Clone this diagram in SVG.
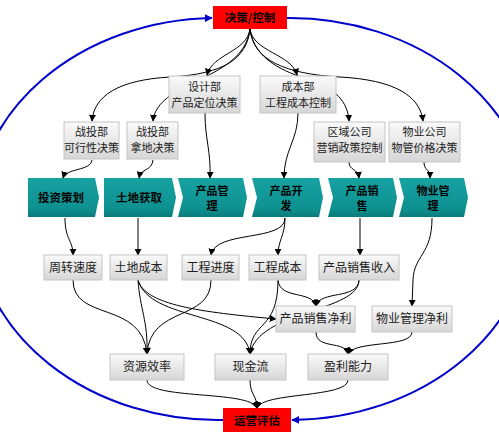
<svg xmlns="http://www.w3.org/2000/svg" width="499" height="440" viewBox="0 0 499 440">
<defs>
<linearGradient id="gbox" x1="0" y1="0" x2="0" y2="1">
<stop offset="0" stop-color="#fafafa"/>
<stop offset="1" stop-color="#d6d6d6"/>
</linearGradient>
<linearGradient id="gteal" x1="0" y1="0" x2="0" y2="1">
<stop offset="0" stop-color="#17a2a2"/>
<stop offset="0.8" stop-color="#0e9090"/>
<stop offset="1" stop-color="#0a7a7a"/>
</linearGradient>
<marker id="ah" viewBox="0 0 10 10" refX="9" refY="5" markerWidth="7" markerHeight="7" markerUnits="userSpaceOnUse" orient="auto">
<path d="M0,0 L10,5 L0,10 z" fill="#000"/>
</marker>
<marker id="ahb" viewBox="0 0 10 10" refX="9" refY="5" markerWidth="8" markerHeight="8" markerUnits="userSpaceOnUse" orient="auto">
<path d="M0,0 L10,5 L0,10 z" fill="#0000cc"/>
</marker>
<style>
.box{fill:url(#gbox);stroke:#c4c4c4;stroke-width:1}
.red{fill:#ff0000;stroke:none}
.chev{fill:url(#gteal);stroke:none}
.t{font-family:"Noto Sans CJK SC","Liberation Sans",sans-serif;font-size:12px;fill:#222;text-anchor:middle}
.t2{font-family:"Noto Sans CJK SC","Liberation Sans",sans-serif;font-size:11px;fill:#222;text-anchor:middle}
.tb{font-family:"Noto Sans CJK SC","Liberation Sans",sans-serif;font-size:11.5px;font-weight:bold;fill:#000;text-anchor:middle}
.tb2{font-family:"Noto Sans CJK SC","Liberation Sans",sans-serif;font-size:11px;font-weight:bold;fill:#000;text-anchor:middle}
.c{fill:none;stroke:#000;stroke-width:1;marker-end:url(#ah)}
.blue{fill:none;stroke:#0000cc;stroke-width:2;marker-end:url(#ahb)}
</style>
</defs>

<g id="cycle">
<path class="blue" d="M223,420 A243,201 0 0 1 212,18"/>
<path class="blue" d="M287,18 A243,201 0 0 1 292,420"/>
</g>

<g id="connectors">
<path class="c" d="M250,29 C247,58 225,74 170,77 C118,80 94,96 92,121"/>
<path class="c" d="M250,29 C246,60 215,72 190,84 C165,96 154,108 153,121"/>
<path class="c" d="M250,29 C247,52 212,54 207,75"/>
<path class="c" d="M250,29 C253,52 292,54 297,75"/>
<path class="c" d="M250,29 C254,60 285,72 310,80 C335,88 348,102 349,121"/>
<path class="c" d="M250,29 C253,60 285,74 340,77 C395,80 420,96 423,121"/>
<path class="c" d="M92,160 C91,171 66,168 63,178"/>
<path class="c" d="M153,160 C152,171 141,168 139,178"/>
<path class="c" d="M205,113 C205,140 211,150 210,178"/>
<path class="c" d="M298,113 C298,140 284,150 284,178"/>
<path class="c" d="M349,162 C349,171 358,168 359,178"/>
<path class="c" d="M424,162 C424,171 430,168 430,178"/>
<path class="c" d="M65,218 C65,240 73,240 73,255"/>
<path class="c" d="M138,218 L138,255"/>
<path class="c" d="M285,218 C285,242 215,230 211,255"/>
<path class="c" d="M285,218 C285,236 278,240 278,255"/>
<path class="c" d="M360,218 L360,255"/>
<path class="c" d="M432,218 C432,255 414,255 413,280 L412,306"/>
<path class="c" d="M278,280 C280,300 312,290 316,306"/>
<path class="c" d="M359,280 C358,300 320,290 316,306"/>
<path class="c" d="M138,280 C145,305 200,312 276,319"/>
<path class="c" d="M138,280 C140,310 148,320 147,354"/>
<path class="c" d="M138,280 C150,322 245,310 250,354"/>
<path class="c" d="M73,280 C73,322 142,300 147,354"/>
<path class="c" d="M211,280 C211,322 150,305 147,354"/>
<path class="c" d="M278,280 C278,332 250,320 250,354"/>
<path class="c" d="M359,280 C359,312 258,310 250,354"/>
<path class="c" d="M316,332 C316,350 345,340 348,354"/>
<path class="c" d="M412,332 C412,348 355,340 348,354"/>
<path class="c" d="M147,380 C147,400 250,390 257,408"/>
<path class="c" d="M250,380 C250,395 257,395 257,408"/>
<path class="c" d="M348,380 C348,398 262,392 257,408"/>
</g>

<g id="n-top"><rect class="red" x="213" y="6" width="74" height="23"/><text class="tb" x="250" y="22">决策/控制</text></g>
<g id="n-bottom"><rect class="red" x="223" y="408" width="68" height="24"/><text class="tb" x="257" y="424.5">运营评估</text></g>

<g id="n-design"><rect class="box" x="169" y="76" width="71" height="37"/><text class="t2" x="204.5" y="90.5">设计部</text><text class="t2" x="204.5" y="106.5">产品定位决策</text></g>
<g id="n-cost"><rect class="box" x="260" y="76" width="76" height="37"/><text class="t2" x="298" y="90.5">成本部</text><text class="t2" x="298" y="106.5">工程成本控制</text></g>
<g id="n-feas"><rect class="box" x="64" y="122" width="55" height="37"/><text class="t2" x="91.5" y="135.5">战投部</text><text class="t2" x="91.5" y="151.5">可行性决策</text></g>
<g id="n-land"><rect class="box" x="127" y="122" width="51" height="37"/><text class="t2" x="152.5" y="135.5">战投部</text><text class="t2" x="152.5" y="151.5">拿地决策</text></g>
<g id="n-region"><rect class="box" x="314" y="122" width="71" height="40"/><text class="t2" x="349.5" y="136">区域公司</text><text class="t2" x="349.5" y="152">营销政策控制</text></g>
<g id="n-prop"><rect class="box" x="389" y="122" width="71" height="40"/><text class="t2" x="424.5" y="136">物业公司</text><text class="t2" x="424.5" y="152">物管价格决策</text></g>

<g id="s-invest"><path class="chev" d="M28,178 L95,178 L99,197.5 L95,217 L28,217 Z"/><text class="tb" x="61" y="202">投资策划</text></g>
<g id="s-land"><path class="chev" d="M104,178 L172,178 L176,197.5 L172,217 L104,217 Z"/><text class="tb" x="139" y="202">土地获取</text></g>
<g id="s-prodmgmt"><path class="chev" d="M178,178 L243,178 L247,197.5 L243,217 L178,217 L183,197.5 Z"/><text class="tb2" x="212" y="194.5">产品管</text><text class="tb2" x="212" y="210">理</text></g>
<g id="s-dev"><path class="chev" d="M252,178 L319,178 L323,197.5 L319,217 L252,217 L257,197.5 Z"/><text class="tb2" x="286" y="194.5">产品开</text><text class="tb2" x="286" y="210">发</text></g>
<g id="s-sales"><path class="chev" d="M328,178 L393,178 L397,197.5 L393,217 L328,217 L333,197.5 Z"/><text class="tb2" x="362" y="194.5">产品销</text><text class="tb2" x="362" y="210">售</text></g>
<g id="s-prop"><path class="chev" d="M399,178 L464,178 L468,197.5 L464,217 L399,217 L404,197.5 Z"/><text class="tb2" x="433" y="194.5">物业管</text><text class="tb2" x="433" y="210">理</text></g>

<g id="r-turn"><rect class="box" x="44" y="255" width="58" height="25"/><text class="t" x="73" y="271.5">周转速度</text></g>
<g id="r-landcost"><rect class="box" x="110" y="255" width="57" height="25"/><text class="t" x="138.5" y="271.5">土地成本</text></g>
<g id="r-progress"><rect class="box" x="182" y="255" width="57" height="25"/><text class="t" x="210.5" y="271.5">工程进度</text></g>
<g id="r-engcost"><rect class="box" x="249" y="255" width="57" height="25"/><text class="t" x="277.5" y="271.5">工程成本</text></g>
<g id="r-revenue"><rect class="box" x="319" y="255" width="80" height="25"/><text class="t" x="359" y="271.5">产品销售收入</text></g>
<g id="r-netsales"><rect class="box" x="276" y="306" width="79" height="26"/><text class="t" x="315.5" y="323">产品销售净利</text></g>
<g id="r-netprop"><rect class="box" x="372" y="306" width="80" height="26"/><text class="t" x="412" y="323">物业管理净利</text></g>
<g id="r-efficiency"><rect class="box" x="110" y="354" width="74" height="26"/><text class="t" x="147" y="371">资源效率</text></g>
<g id="r-cash"><rect class="box" x="215" y="354" width="71" height="26"/><text class="t" x="250.5" y="371">现金流</text></g>
<g id="r-profit"><rect class="box" x="308" y="354" width="80" height="26"/><text class="t" x="348" y="371">盈利能力</text></g>
</svg>
